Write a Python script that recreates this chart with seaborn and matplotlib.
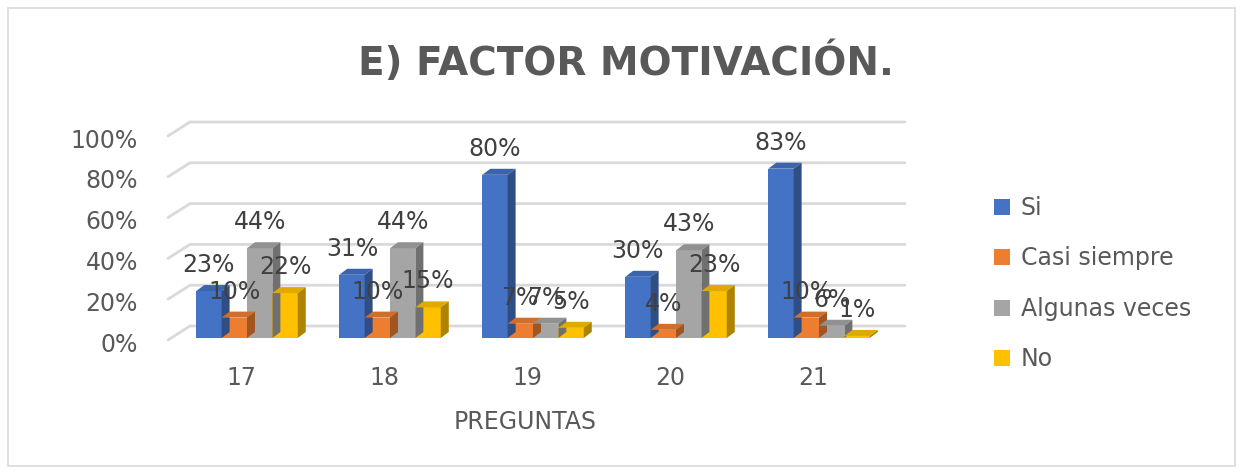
import numpy as np
import pandas as pd
import matplotlib
matplotlib.use("Agg")
import matplotlib.pyplot as plt
import seaborn as sns
from matplotlib.patches import Polygon, Rectangle
from matplotlib.transforms import ScaledTranslation
import matplotlib.colors as mcolors

categories = ["17", "18", "19", "20", "21"]
series_names = ["Si", "Casi siempre", "Algunas veces", "No"]
si = [0.23, 0.31, 0.80, 0.30, 0.83]
casi_siempre = [0.10, 0.10, 0.07, 0.04, 0.10]
algunas_veces = [0.44, 0.44, 0.07, 0.43, 0.06]
no = [0.22, 0.15, 0.05, 0.23, 0.01]
yticks = [0, 0.2, 0.4, 0.6, 0.8, 1.0]
ytick_labels = ["0%", "20%", "40%", "60%", "80%", "100%"]
title = "E) FACTOR MOTIVACIÓN."
xlabel = "PREGUNTAS"
colors = ["#4472C4", "#ED7D31", "#A5A5A5", "#FFC000"]

rows = []
for name, vals in zip(series_names, [si, casi_siempre, algunas_veces, no]):
    for c, v in zip(categories, vals):
        rows.append({"Pregunta": c, "Serie": name, "Valor": v})
df = pd.DataFrame(rows)

sns.set_theme(style="white")
plt.rcParams["font.family"] = ["DejaVu Sans"]

W, H = 1243, 474
DPI = 100
fig = plt.figure(figsize=(W / DPI, H / DPI), dpi=DPI)
fig.patch.set_facecolor("white")
fig.add_artist(Rectangle((8 / W, 8 / H), (1235 - 8) / W, (466 - 8) / H,
                         transform=fig.transFigure, fill=False,
                         edgecolor="#D9D9D9", linewidth=1.2))

ax_l, ax_r = 160, 905
ax_b, ax_t = 338, 134
step = 143.0
ax = fig.add_axes([ax_l / W, (H - ax_b) / H, (ax_r - ax_l) / W, (ax_b - ax_t) / H])
xmin = -(247 - ax_l) / step
xmax = xmin + (ax_r - ax_l) / step
px_x = (xmax - xmin) / (ax_r - ax_l)
px_y = 1.0 / (ax_b - ax_t)

def xd(px):
    return xmin + (px - ax_l) * px_x

# 3D-looking gridlines (back wall + floor slant)
for t in yticks:
    ax.plot([xd(168), xd(190), xd(905)], [t - 2 * px_y, t + 12 * px_y, t + 12 * px_y],
            color="#D9D9D9", linewidth=2, zorder=0, clip_on=False, solid_joinstyle="miter")

sns.barplot(data=df, x="Pregunta", y="Valor", hue="Serie", palette=colors,
            width=0.71, gap=0, ax=ax, legend=True, zorder=3, saturation=1,
            linewidth=0, edgecolor="none")
ax.set_xlim(xmin, xmax)
ax.set_ylim(0, 1.0)

dx, dy = 8 * px_x, 6 * px_y

def shade(c, f):
    r, g, b = mcolors.to_rgb(c)
    return (r * f, g * f, b * f)

for bars, col in zip(ax.containers, colors):
    for p in bars:
        x0, w, h = p.get_x(), p.get_width(), p.get_height()
        top = Polygon([(x0, h), (x0 + w, h), (x0 + w + dx, h + dy), (x0 + dx, h + dy)],
                      closed=True, facecolor=shade(col, 0.88), edgecolor="none", zorder=3)
        side = Polygon([(x0 + w, 0), (x0 + w + dx, dy), (x0 + w + dx, h + dy), (x0 + w, h)],
                       closed=True, facecolor=shade(col, 0.68), edgecolor="none", zorder=3)
        ax.add_patch(top)
        ax.add_patch(side)
        ax.annotate(f"{h * 100:.0f}%", (x0 + w / 2, h), xytext=(0, 26 * 72 / DPI),
                    textcoords="offset points", ha="center", va="center",
                    fontsize=17, color="#404040", zorder=5)

sns.despine(ax=ax, left=True, bottom=True)
ax.set_yticks(yticks)
ax.set_yticklabels(ytick_labels, fontsize=17, color="#595959")
ax.tick_params(axis="y", pad=(ax_l - 138) * 72 / DPI, length=0)
for lab in ax.get_yticklabels():
    lab.set_transform(lab.get_transform() + ScaledTranslation(0, -4 / DPI, fig.dpi_scale_trans))
ax.tick_params(axis="x", pad=(366 - ax_b) * 72 / DPI, length=0, labelsize=17, labelcolor="#595959")
for lab in ax.get_xticklabels():
    lab.set_transform(lab.get_transform() + ScaledTranslation(-6 / DPI, 0, fig.dpi_scale_trans))
ax.set_xlabel(xlabel, fontsize=17, color="#595959")
ax.xaxis.label.set_va("center")
ax.xaxis.set_label_coords((525 - ax_l) / (ax_r - ax_l), -(422 - ax_b) / (ax_b - ax_t))
ax.set_ylabel("")

leg = ax.legend(loc="upper left", bbox_to_anchor=(994 / W, (H - 196) / H),
                bbox_transform=fig.transFigure,
                frameon=False, fontsize=17, labelspacing=1.12, handlelength=0.68,
                handleheight=0.68, handletextpad=0.45, borderaxespad=0, borderpad=0)
for t in leg.get_texts():
    t.set_color("#595959")

fig.text(626 / W, (H - 62) / H, title, ha="center", va="center",
         fontsize=28, fontweight="bold", color="#595959")

fig.savefig("out.png", dpi=DPI)
